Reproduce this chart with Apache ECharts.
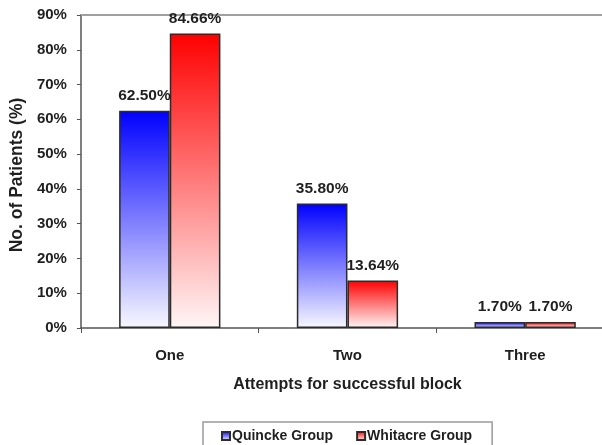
<!DOCTYPE html>
<html>
<head>
<meta charset="utf-8">
<style>
  html, body { margin: 0; padding: 0; background: #fff; overflow: hidden; }
  /* the plot runs slightly past the right edge of the window */
  #chart { width: 614px; height: 445px; }
</style>
<script src="https://cdn.jsdelivr.net/npm/echarts@6/dist/echarts.min.js"></script>
</head>
<body>
<div id="chart"></div>
<script>
// Attempts needed for a successful block, by needle group
const categories = ['One', 'Two', 'Three'];
const quincke = [62.50, 35.80, 1.70];
const whitacre = [84.66, 13.64, 1.70];
const yTicks = [0, 10, 20, 30, 40, 50, 60, 70, 80, 90];

const FONT = '"Liberation Sans", Arial, sans-serif';
const TEXT = '#1f1f1f';

function fade(top, bottom) {
  return new echarts.graphic.LinearGradient(0, 0, 0, 1, [
    { offset: 0, color: top },
    { offset: 1, color: bottom }
  ]);
}

const chart = echarts.init(document.getElementById('chart'), null, { renderer: 'canvas' });

function barSeries(name, values, top, bottom) {
  return {
    name: name,
    type: 'bar',
    data: values,
    barGap: '0%',
    barCategoryGap: '43%',
    itemStyle: { color: fade(top, bottom), borderColor: '#2b2b2b', borderWidth: 1.5 },
    label: {
      show: true,
      position: 'top',
      distance: 7,
      fontFamily: FONT,
      fontWeight: 'bold',
      fontSize: 15.5,
      color: TEXT,
      formatter: p => p.value.toFixed(2) + '%'
    }
  };
}

chart.setOption({
  animation: false,
  backgroundColor: '#ffffff',
  grid: { left: 80, top: 15, width: 534, height: 313, containLabel: false },
  legend: {
    top: 422,
    left: 203,
    padding: [7, 20, 8, 18],
    borderColor: '#9a9a9a',
    borderWidth: 1.5,
    itemWidth: 8,
    itemHeight: 8,
    itemGap: 23,
    icon: 'rect',
    textStyle: { fontFamily: FONT, fontWeight: 'bold', fontSize: 14, color: TEXT, padding: [0, 0, 0, -3] },
    data: ['Quincke Group', 'Whitacre Group']
  },
  xAxis: [
    {
      type: 'category',
      data: categories,
      name: 'Attempts for successful block',
      nameLocation: 'middle',
      nameGap: 49,
      nameTextStyle: { fontFamily: FONT, fontWeight: 'bold', fontSize: 16, color: TEXT },
      axisLine: { lineStyle: { color: '#555', width: 1.5 } },
      axisTick: { show: true, length: 5, lineStyle: { color: '#555' } },
      axisLabel: { margin: 20, fontFamily: FONT, fontWeight: 'bold', fontSize: 15, color: TEXT }
    },
    {
      type: 'category',
      data: categories,
      position: 'top',
      axisLine: { show: true, lineStyle: { color: '#a0a0a0', width: 2 } },
      axisTick: { show: false },
      axisLabel: { show: false }
    }
  ],
  yAxis: {
    type: 'value',
    min: 0,
    max: 90,
    interval: 10,
    name: 'No. of Patients (%)',
    nameLocation: 'middle',
    nameGap: 50,
    nameTextStyle: { fontFamily: FONT, fontWeight: 'bold', fontSize: 17.5, color: TEXT, padding: [0, 7, 0, 0] },
    axisLine: { show: true, lineStyle: { color: '#555', width: 1.5 } },
    axisTick: { show: true, length: 4, lineStyle: { color: '#555' } },
    splitLine: { show: false },
    axisLabel: {
      margin: 14,
      fontFamily: FONT,
      fontWeight: 'bold',
      fontSize: 15,
      color: TEXT,
      formatter: v => (yTicks.includes(v) ? v + '%' : '')
    }
  },
  series: [
    barSeries('Quincke Group', quincke, '#0000ff', '#f8f8ff'),
    barSeries('Whitacre Group', whitacre, '#ff0000', '#fff6f6')
  ]
});
</script>
</body>
</html>
